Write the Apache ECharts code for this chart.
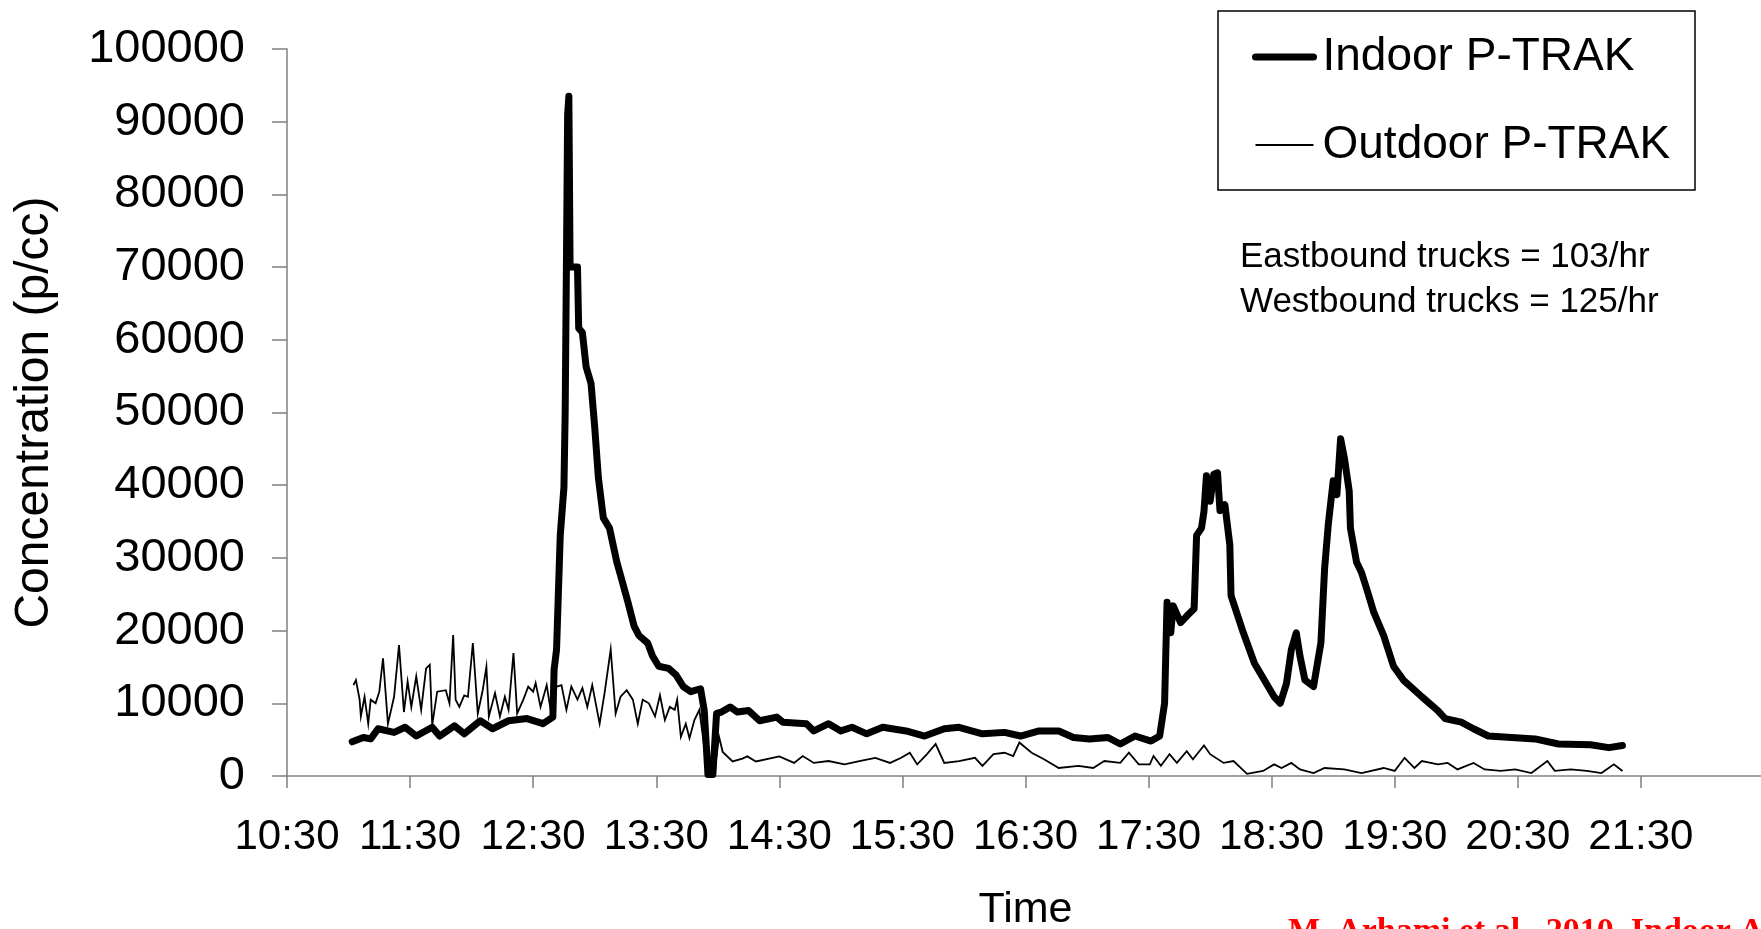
<!DOCTYPE html>
<html>
<head>
<meta charset="utf-8">
<title>Indoor vs Outdoor P-TRAK</title>
<script src="https://cdn.jsdelivr.net/npm/echarts@6/dist/echarts.min.js"></script>
<style>
  html, body { margin: 0; padding: 0; background: #fff; }
  #chart { width: 1761px; height: 929px; }
</style>
</head>
<body>
<div id="chart"></div>
<script>
// x values are hours elapsed since 10:30
const indoorHours = [0.53,0.62,0.68,0.74,0.87,0.96,1.05,1.18,1.24,1.36,1.44,1.57,1.67,1.80,1.95,2.08,2.16,2.17,2.19,2.22,2.25,2.26,2.27,2.28,2.29,2.30,2.36,2.37,2.40,2.43,2.47,2.50,2.53,2.57,2.62,2.68,2.71,2.77,2.82,2.86,2.93,2.97,3.02,3.10,3.16,3.22,3.28,3.36,3.39,3.42,3.46,3.49,3.53,3.60,3.66,3.75,3.84,3.98,4.03,4.22,4.28,4.40,4.50,4.59,4.71,4.84,5.03,5.18,5.34,5.46,5.65,5.83,5.96,6.11,6.27,6.39,6.52,6.67,6.77,6.89,7.02,7.09,7.13,7.15,7.18,7.20,7.26,7.31,7.37,7.39,7.43,7.45,7.47,7.50,7.53,7.56,7.58,7.62,7.66,7.67,7.77,7.86,7.94,8.02,8.07,8.12,8.16,8.20,8.23,8.27,8.34,8.40,8.43,8.46,8.50,8.53,8.56,8.59,8.63,8.64,8.69,8.73,8.78,8.83,8.91,8.99,9.07,9.22,9.35,9.41,9.54,9.64,9.76,9.95,10.14,10.33,10.59,10.74,10.85];
const indoorValues = [4700,5300,5100,6500,6000,6700,5500,6700,5500,6900,5800,7600,6500,7600,7900,7200,8100,14600,17400,33100,39700,50000,70000,91000,93500,70000,70000,61600,61000,56300,54000,48000,41000,35500,34100,29400,27600,23900,20600,19300,18300,16500,15100,14800,13900,12300,11600,12000,9000,200,200,8600,8800,9500,8800,9000,7600,8100,7400,7200,6200,7200,6200,6700,5800,6700,6200,5500,6500,6700,5800,6000,5500,6200,6200,5300,5100,5300,4400,5500,4800,5500,10000,23900,19700,23400,21100,22000,23000,33100,34100,36400,41300,37800,41500,41700,36500,37300,31800,24800,19700,15500,13200,10900,10000,12700,17400,19700,16500,13200,12300,18300,28500,34600,40600,38700,46400,43800,39200,34100,29400,28000,25300,22500,19300,15100,13200,10900,9000,7900,7400,6500,5500,5300,5100,4400,4300,3900,4200];

const outdoorHours = [0.54,0.56,0.59,0.60,0.63,0.66,0.68,0.72,0.75,0.78,0.82,0.87,0.91,0.95,0.98,1.01,1.05,1.09,1.13,1.16,1.18,1.22,1.29,1.32,1.35,1.37,1.40,1.44,1.47,1.51,1.55,1.59,1.62,1.64,1.69,1.73,1.77,1.80,1.84,1.87,1.92,1.96,2.00,2.02,2.06,2.11,2.15,2.19,2.23,2.27,2.31,2.36,2.40,2.44,2.48,2.54,2.58,2.63,2.67,2.71,2.76,2.81,2.85,2.89,2.94,2.99,3.03,3.07,3.11,3.15,3.17,3.20,3.24,3.27,3.31,3.35,3.39,3.42,3.46,3.49,3.51,3.54,3.62,3.70,3.74,3.81,4.00,4.12,4.19,4.28,4.40,4.53,4.65,4.78,4.90,4.99,5.06,5.12,5.20,5.27,5.34,5.46,5.59,5.65,5.74,5.83,5.90,5.95,6.05,6.15,6.27,6.43,6.55,6.64,6.77,6.84,6.92,7.01,7.04,7.10,7.17,7.23,7.31,7.36,7.45,7.50,7.61,7.69,7.80,7.93,8.02,8.08,8.16,8.23,8.34,8.43,8.59,8.73,8.91,9.00,9.08,9.16,9.22,9.35,9.43,9.51,9.64,9.73,9.86,9.98,10.11,10.24,10.30,10.43,10.56,10.68,10.78,10.85];
const outdoorValues = [12500,13200,10500,8200,10900,7200,10500,10000,11600,16200,7200,10900,18000,8800,13000,9500,13700,9100,14800,15300,7000,11600,11800,10000,19400,10500,9500,11100,10900,18300,8600,11800,15000,8200,11400,8200,10900,9100,16900,8600,10500,12300,11600,12800,9500,12500,8200,12300,12500,9100,12300,10500,12100,9500,12500,7200,11400,17400,8600,10900,11800,10500,7200,10500,10000,8200,11100,7700,9500,9100,10500,5400,7200,5200,7700,9100,4000,100,100,2700,5400,3300,2000,2400,2700,2000,2700,1800,2750,1800,2060,1600,2060,2500,1800,2500,3200,1600,3000,4400,1800,2060,2500,1400,3000,3200,2750,4600,3200,2300,1100,1400,1100,2060,1800,3200,1600,1600,2750,1400,3000,1800,3400,2300,4200,3000,1800,2060,300,700,1600,1100,1800,900,400,1100,900,400,1100,700,2500,1100,2060,1600,1800,900,1800,900,700,900,400,2060,700,900,700,400,1600,700];

const seriesNames = ['Indoor P-TRAK', 'Outdoor P-TRAK'];
const noteLines = ['Eastbound trucks = 103/hr', 'Westbound trucks = 125/hr'];
const sourceText = 'M. Arhami et al., 2010, Indoor Air';

const FONT = '"Liberation Sans", Arial, sans-serif';

function zip(xs, ys) {
  return xs.map((x, i) => [x, ys[i]]);
}

// 0 -> "10:30", 1 -> "11:30", ...
function clockLabel(h) {
  return (10 + h) + ':30';
}

const chart = echarts.init(document.getElementById('chart'));

chart.setOption({
  animation: false,
  backgroundColor: '#fff',
  grid: {
    left: 287,
    top: 49,
    width: 1477,
    bottom: 153,
    outerBoundsMode: 'none'
  },
  legend: {
    orient: 'vertical',
    left: 1252,
    top: 32,
    padding: 0,
    itemWidth: 58,
    itemHeight: 14,
    itemGap: 38,
    selectedMode: false,
    itemStyle: { opacity: 0 },
    textStyle: {
      fontFamily: FONT,
      fontSize: 46,
      lineHeight: 50,
      color: '#000',
      padding: [0, 0, 0, 4]
    },
    data: [
      { name: seriesNames[0], lineStyle: { width: 7, color: '#000' } },
      { name: seriesNames[1], lineStyle: { width: 2, color: '#000' } }
    ]
  },
  xAxis: {
    type: 'value',
    min: 0,
    max: 12,
    interval: 1,
    name: 'Time',
    nameLocation: 'middle',
    nameGap: 113,
    nameTextStyle: { fontFamily: FONT, fontSize: 43, color: '#000' },
    axisLine: { lineStyle: { color: '#808080', width: 1.5 } },
    axisTick: { inside: false, length: 12, lineStyle: { color: '#808080', width: 1.5 } },
    axisLabel: {
      margin: 40,
      fontFamily: FONT,
      fontSize: 42,
      color: '#000',
      showMaxLabel: false,
      formatter: clockLabel
    },
    splitLine: { show: false }
  },
  yAxis: {
    type: 'value',
    min: 0,
    max: 100000,
    interval: 10000,
    name: 'Concentration (p/cc)',
    nameLocation: 'middle',
    nameGap: 228,
    nameTextStyle: { fontFamily: FONT, fontSize: 48, color: '#000' },
    axisLine: { show: true, lineStyle: { color: '#808080', width: 1.5 } },
    axisTick: { show: true, length: 15, lineStyle: { color: '#808080', width: 1.5 } },
    axisLabel: {
      margin: 42,
      fontFamily: FONT,
      fontSize: 47,
      color: '#000',
      formatter: (v) => String(v)
    },
    splitLine: { show: false }
  },
  graphic: [
    {
      type: 'rect',
      shape: { x: 1218, y: 11, width: 477, height: 179 },
      style: { fill: 'transparent', stroke: '#000', lineWidth: 1.5 },
      silent: true
    },
    {
      type: 'text',
      left: 1240,
      top: 235,
      style: {
        text: noteLines.join('\n'),
        font: '35px ' + FONT,
        lineHeight: 45,
        fill: '#000'
      },
      silent: true
    },
    {
      type: 'text',
      left: 1288,
      top: 915,
      style: {
        text: sourceText,
        font: 'bold 34px "Liberation Serif", "Times New Roman", serif',
        fill: '#ff0000'
      },
      silent: true
    }
  ],
  series: [
    {
      name: seriesNames[0],
      type: 'line',
      data: zip(indoorHours, indoorValues),
      symbol: 'none',
      z: 3,
      itemStyle: { color: '#000' },
      lineStyle: { color: '#000', width: 7, join: 'round', cap: 'round' }
    },
    {
      name: seriesNames[1],
      type: 'line',
      data: zip(outdoorHours, outdoorValues),
      symbol: 'none',
      z: 2,
      itemStyle: { color: '#000' },
      lineStyle: { color: '#000', width: 1.8, join: 'miter' }
    }
  ]
});
</script>
</body>
</html>
